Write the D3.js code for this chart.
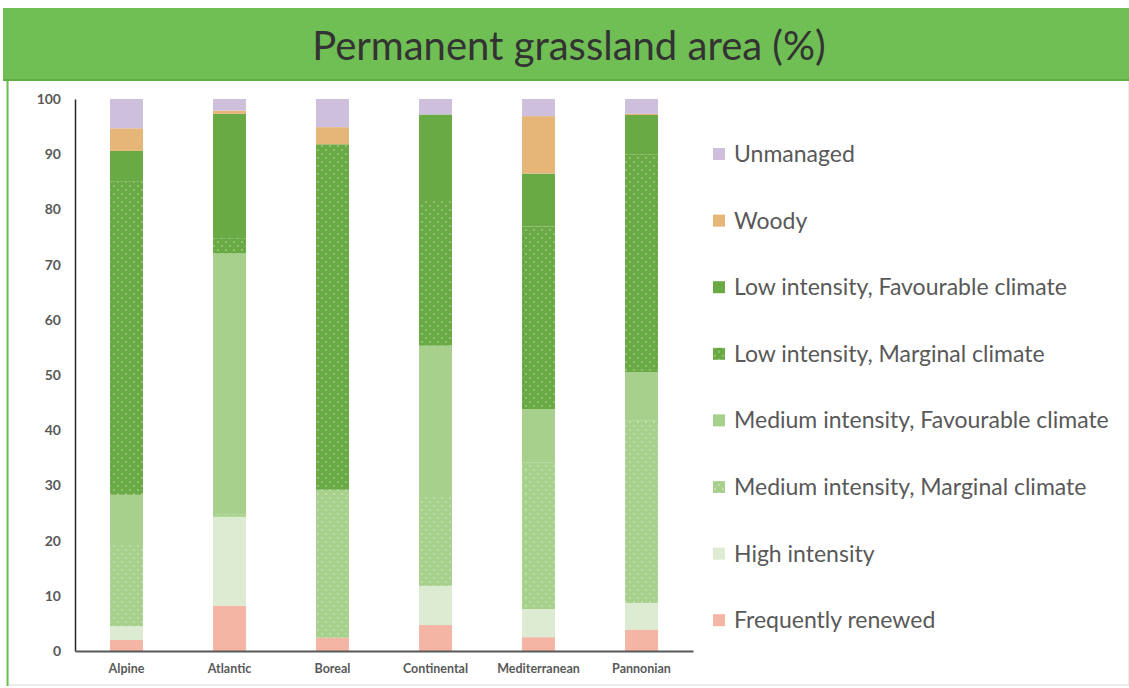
<!DOCTYPE html>
<html>
<head>
<meta charset="utf-8">
<script src="https://cdn.jsdelivr.net/npm/d3@7"></script>
<style>
  body { margin: 0; background: #fff; }
  svg { display: block; font-family: Lato, "Open Sans", sans-serif; }
</style>
</head>
<body>
<div id="chart"></div>
<script>
// regions on the x axis
const regions = ['Alpine', 'Atlantic', 'Boreal', 'Continental', 'Mediterranean', 'Pannonian'];

// series, bottom to top of each stack
const seriesNames = [
  'Frequently renewed',
  'High intensity',
  'Medium intensity, Marginal climate',
  'Medium intensity, Favourable climate',
  'Low intensity, Marginal climate',
  'Low intensity, Favourable climate',
  'Woody',
  'Unmanaged'
];

// values (%) per series, in region order
const frequentlyRenewed = [2.0, 8.2, 2.4, 4.7, 2.5, 3.8];
const highIntensity     = [2.5, 16.1, 0.0, 7.1, 5.1, 4.9];
const mediumMarginal    = [14.7, 0.5, 26.8, 16.1, 26.5, 33.0];
const mediumFavourable  = [9.1, 47.2, 0.0, 27.4, 9.7, 8.8];
const lowMarginal       = [56.7, 2.8, 62.6, 26.4, 33.1, 39.5];
const lowFavourable     = [5.6, 22.5, 0.0, 15.5, 9.6, 7.1];
const woody             = [4.1, 0.6, 3.1, 0.0, 10.4, 0.2];
const unmanaged         = [5.3, 2.1, 5.1, 2.8, 3.1, 2.7];

const yTicks = [0, 10, 20, 30, 40, 50, 60, 70, 80, 90, 100];

const seriesValues = [frequentlyRenewed, highIntensity, mediumMarginal, mediumFavourable,
  lowMarginal, lowFavourable, woody, unmanaged];

const colors = ['#f4b5a5', '#dcebd1', '#a8d08d', '#a8d08d', '#6aaa45', '#6aaa45', '#e6b679', '#cec0dc'];
const dotted = [false, false, true, false, true, false, false, false];

const W = 1129, H = 688;
const svg = d3.select('#chart').append('svg').attr('width', W).attr('height', H);

// dotted pattern fills
const defs = svg.append('defs');
[['dotMed', '#a8d08d'], ['dotLow', '#6aaa45']].forEach(([id, c]) => {
  const p = defs.append('pattern').attr('id', id).attr('patternUnits', 'userSpaceOnUse')
    .attr('width', 8).attr('height', 8);
  p.append('rect').attr('width', 8).attr('height', 8).attr('fill', c);
  p.append('circle').attr('cx', 2).attr('cy', 2).attr('r', 0.8).attr('fill', '#fff').attr('opacity', 0.6);
  p.append('circle').attr('cx', 6).attr('cy', 6).attr('r', 0.8).attr('fill', '#fff').attr('opacity', 0.6);
});
const fillFor = i => dotted[i] ? (i === 2 ? 'url(#dotMed)' : 'url(#dotLow)') : colors[i];

// frame and title bar
svg.append('rect').attr('x', 8).attr('y', 80).attr('width', W - 8).attr('height', 605)
  .attr('fill', '#fff').attr('stroke', '#d9d9d9');
svg.append('line').attr('x1', 7.5).attr('x2', 7.5).attr('y1', 80).attr('y2', 686)
  .attr('stroke', '#70bf54').attr('stroke-width', 2);
svg.append('rect').attr('x', 3).attr('y', 8).attr('width', W - 3).attr('height', 72)
  .attr('fill', '#70bf54');
svg.append('line').attr('x1', 3).attr('x2', W).attr('y1', 80).attr('y2', 80)
  .attr('stroke', '#62ad47').attr('stroke-width', 2);
svg.append('text').attr('x', 569).attr('y', 60).attr('text-anchor', 'middle')
  .attr('font-size', 40).attr('fill', '#333').attr('font-weight', 400)
  .text('Permanent grassland area (%)');

// scales
const x = d3.scaleBand().domain(regions).range([75, 693]).paddingInner(0.68).paddingOuter(0.34);
const y = d3.scaleLinear().domain([0, 100]).range([651, 99]);

const table = regions.map((r, j) => {
  const row = { region: r };
  seriesNames.forEach((s, i) => { row[s] = seriesValues[i][j]; });
  return row;
});
const stacked = d3.stack().keys(seriesNames)(table);

svg.append('g').selectAll('g').data(stacked).enter().append('g')
  .attr('fill', (d, i) => fillFor(i))
  .selectAll('rect').data(d => d).enter().append('rect')
  .attr('x', d => x(d.data.region))
  .attr('width', x.bandwidth())
  .attr('y', d => y(d[1]))
  .attr('height', d => Math.max(0, y(d[0]) - y(d[1])));

// y axis
const yAxis = svg.append('g').attr('transform', 'translate(75,0)')
  .call(d3.axisLeft(y).tickValues(yTicks).tickSize(0).tickPadding(14));
yAxis.select('.domain').attr('stroke', '#262626').attr('stroke-width', 1.5);
yAxis.selectAll('text').attr('font-size', 14).attr('font-weight', 700).attr('fill', '#595959')
  .attr('font-family', 'Lato, sans-serif');

// x axis
const xAxis = svg.append('g').attr('transform', 'translate(0,651)')
  .call(d3.axisBottom(x).tickSize(0).tickPadding(13));
xAxis.select('.domain').attr('stroke', '#595959').attr('stroke-width', 2);
xAxis.selectAll('text').attr('font-size', 12.5).attr('font-weight', 700).attr('fill', '#595959')
  .attr('font-family', 'Lato, sans-serif');

// legend, top to bottom
const legendOrder = seriesNames.map((s, i) => i).reverse();
const lg = svg.append('g').selectAll('g').data(legendOrder).enter().append('g')
  .attr('transform', (d, k) => `translate(713,${154 + k * 66.6})`);
lg.append('rect').attr('x', 0).attr('y', -6).attr('width', 12).attr('height', 12)
  .attr('fill', i => fillFor(i));
lg.append('text').attr('x', 21).attr('y', 0).attr('dy', '0.35em')
  .attr('font-size', 23).attr('fill', '#595959')
  .text(i => seriesNames[i]);
</script>
</body>
</html>
